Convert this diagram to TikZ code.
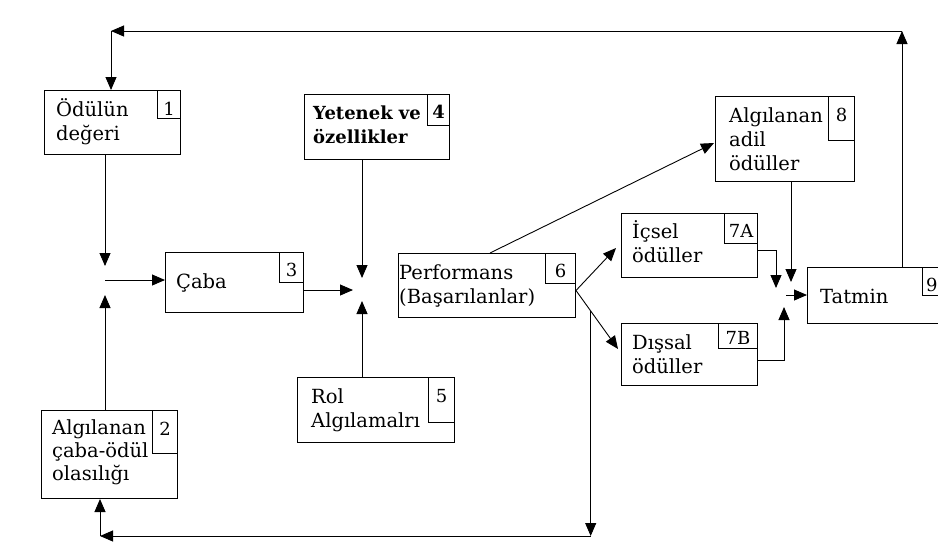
\documentclass[tikz,border=0pt]{standalone}
\usepackage{fontspec}
\setmainfont{DejaVu Serif}
\usetikzlibrary{arrows.meta,calc}
\begin{document}
\begin{tikzpicture}[x=1pt,y=-1pt,
  box/.style={draw, line width=1pt, inner sep=0pt, anchor=north west},
  numbox/.style={draw, line width=0.9pt, inner sep=0pt, anchor=north east},
  numtxt/.style={anchor=base, inner sep=0pt, font=\fontsize{18}{20}\selectfont},
  txt/.style={anchor=base west, inner sep=0pt, align=left, font=\fontsize{19.5}{24}\selectfont},
  arr/.style={-{Triangle[length=13pt,width=11pt]}, line width=0.9pt}]
\useasboundingbox (0,0) rectangle (938,550);
\clip (0,0) rectangle (938,550);
% ---- boxes ----
% 1
\node[box, minimum width=136, minimum height=64] (b1) at (44,90) {};
\node[numbox, minimum width=23, minimum height=28] (n1) at (b1.north east) {};
\node[numtxt] (k1) at ($(n1.north)+(0,25)$) {1};
\node[txt] (t1) at (56,140) {Ödülün\\değeri};
% 2
\node[box, minimum width=136, minimum height=88] (b2) at (41,410) {};
\node[numbox, minimum width=25, minimum height=43] (n2) at (b2.north east) {};
\node[numtxt] (k2) at ($(n2.north)+(0,25)$) {2};
\node[txt, font=\fontsize{19.5}{23}\selectfont] (t2) at (52,480) {Algılanan\\çaba-ödül\\olasılığı};
% 3
\node[box, minimum width=138, minimum height=60] (b3) at (165,252) {};
\node[numbox, minimum width=24, minimum height=30] (n3) at (b3.north east) {};
\node[numtxt] (k3) at ($(n3.north)+(0,24)$) {3};
\node[txt] (t3) at (176,288) {Çaba};
% 4
\node[box, minimum width=145, minimum height=65] (b4) at (304,94) {};
\node[numbox, minimum width=22, minimum height=31] (n4) at (b4.north east) {};
\node[numtxt, font=\bfseries\fontsize{18}{20}\selectfont] (k4) at ($(n4.north)+(0,24)$) {4};
\node[txt, font=\bfseries\fontsize{18}{24}\selectfont] (t4) at (313,143) {Yetenek ve\\özellikler};
% 5
\node[box, minimum width=157, minimum height=65] (b5) at (297,377) {};
\node[numbox, minimum width=26, minimum height=45] (n5) at (b5.north east) {};
\node[numtxt] (k5) at ($(n5.north)+(0,25)$) {5};
\node[txt] (t5) at (311,427) {Rol\\Algılamalrı};
% 6
\node[box, minimum width=177, minimum height=64] (b6) at (398,253) {};
\node[numbox, minimum width=30, minimum height=30] (n6) at (b6.north east) {};
\node[numtxt] (k6) at ($(n6.north)+(0,24)$) {6};
\node[txt] (t6) at (399,303) {Performans\\(Başarılanlar)};
% 7A
\node[box, minimum width=136, minimum height=64] (b7a) at (621,213) {};
\node[numbox, minimum width=33, minimum height=30] (n7a) at (b7a.north east) {};
\node[numtxt] (k7a) at ($(n7a.north)+(0,24)$) {7A};
\node[txt] (t7a) at (632,262) {İçsel\\ödüller};
% 7B
\node[box, minimum width=136, minimum height=62] (b7b) at (621,323) {};
\node[numbox, minimum width=39, minimum height=25] (n7b) at (b7b.north east) {};
\node[numtxt] (k7b) at ($(n7b.north)+(0,21)$) {7B};
\node[txt] (t7b) at (632,373) {Dışsal\\ödüller};
% 8
\node[box, minimum width=139, minimum height=85] (b8) at (715,96) {};
\node[numbox, minimum width=26, minimum height=44] (n8) at (b8.north east) {};
\node[numtxt] (k8) at ($(n8.north)+(0,25)$) {8};
\node[txt] (t8) at (729,170) {Algılanan\\adil\\ödüller};
% 9
\node[box, minimum width=160, minimum height=56] (b9) at (807,267) {};
\node[numbox, anchor=north west, minimum width=40, minimum height=28] (n9) at (922,267) {};
\node[numtxt, anchor=base west] (k9) at (926,291) {9};
\node[txt] (t9) at (820,303) {Tatmin};
% ---- junctions and corners ----
\coordinate (j1) at (105,280);
\coordinate (j1t) at (105,266);
\coordinate (j1b) at (105,295);
\coordinate (j2) at (362,290);
\coordinate (j2l) at (353,290);
\coordinate (j2t) at (362,278);
\coordinate (j2b) at (362,301);
\coordinate (tr) at (902,31);
\coordinate (tl) at (111,31);
\coordinate (s6) at ($(b6.east)+(0,5)$);
\coordinate (e7a) at (616,248);
\coordinate (e7b) at (618,349);
\coordinate (fb) at ($(s6)!0.35!(e7b)$);
\coordinate (c536) at (0,536);
\coordinate (bl) at (100,536);
\coordinate (a7) at ($(b7a.east)+(0,5)$);
\coordinate (j3a) at (776,288);
\coordinate (j3b) at (791,282);
\coordinate (a7b) at (757,360);
\coordinate (j3c) at (784,307);
\coordinate (j3) at (786,295);
% ---- connectors ----
\draw[arr] (b1.south -| j1) -- (j1t);
\draw[arr] (b2.north -| j1) -- (j1b);
\draw[arr] (j1) -- (b3.west |- j1);
\draw[arr] (b3.east |- j2) -- (j2l);
\draw[arr] (b4.south -| j2) -- (j2t);
\draw[arr] (b5.north -| j2) -- (j2b);
\draw[arr] ($(b6.north west)+(92,0)$) -- ($(b8.west)+(-1,4)$);
\draw[arr] (s6) -- (e7a);
\draw[arr] (s6) -- (e7b);
\draw[arr] (a7) -| (j3a);
\draw[arr] (b8.south -| j3b) -- (j3b);
\draw[arr] (a7b) -| (j3c);
\draw[arr] (j3) -- (b9.west |- j3);
\draw[arr] (b9.north -| tr) -- (tr);
\draw[arr] (tr) -- (tl);
\draw[arr] (tl) -- (b1.north -| tl);
\draw[arr] (fb) -- (fb |- c536);
\draw[arr] (fb |- c536) -- (bl);
\draw[arr] (bl) -- (b2.south -| bl);
\end{tikzpicture}
\end{document}
